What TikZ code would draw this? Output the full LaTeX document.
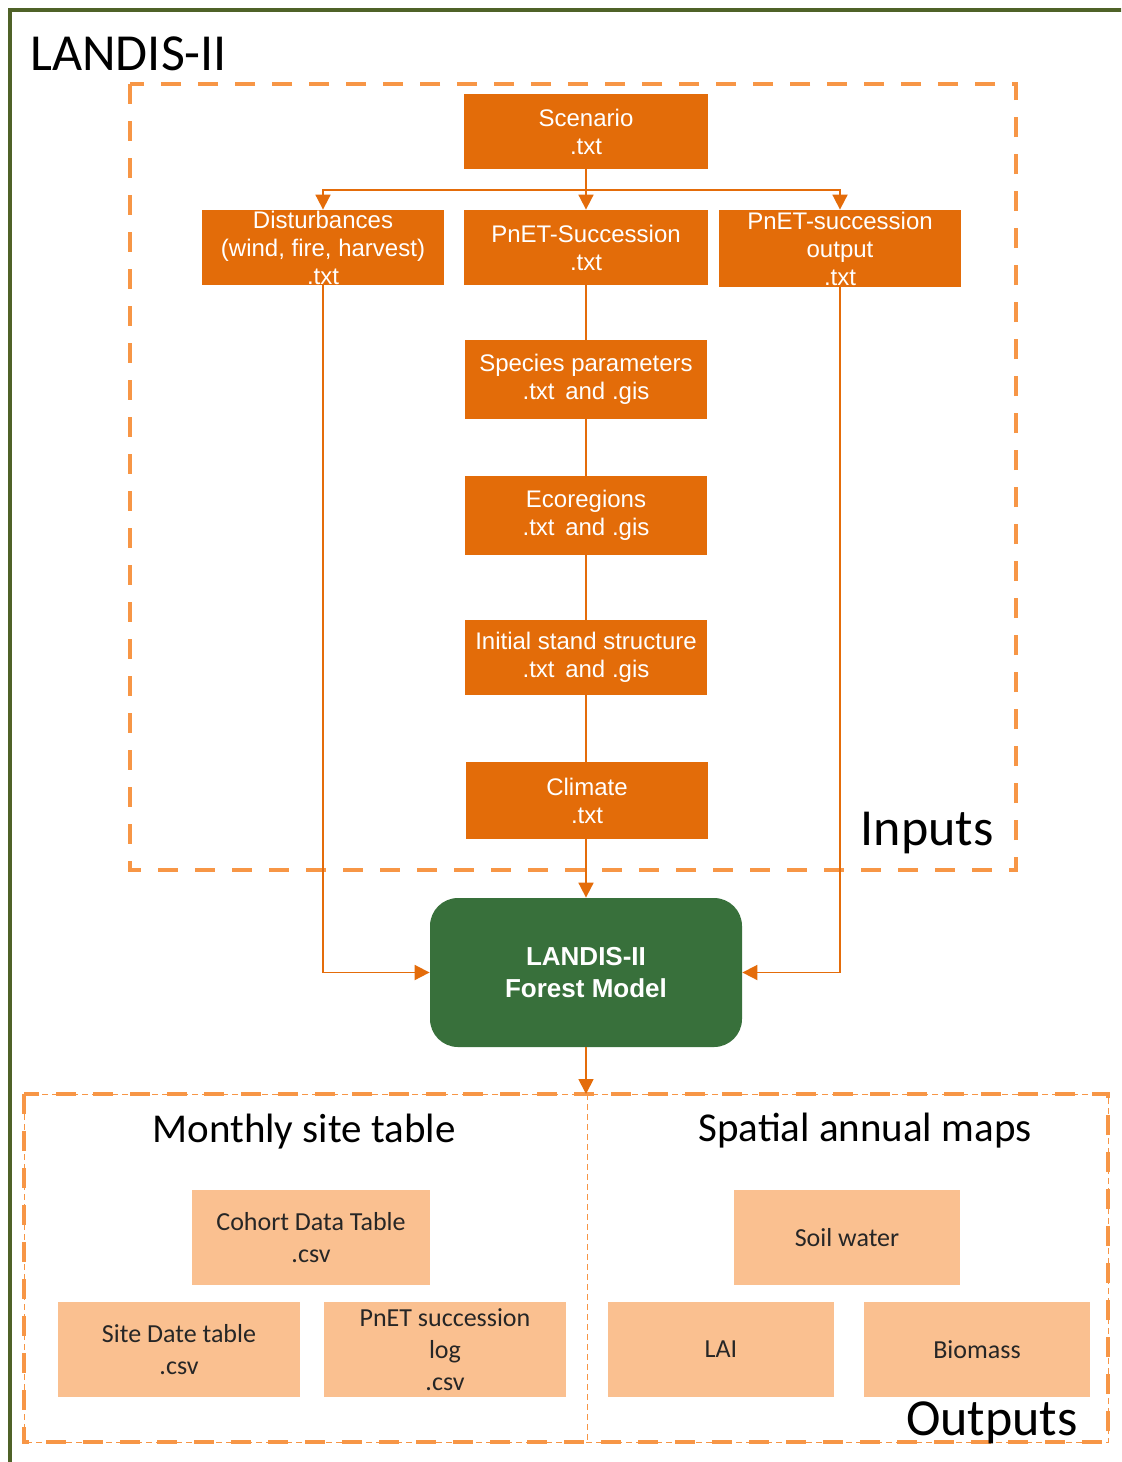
\documentclass[tikz,border=0pt]{standalone}
\usepackage{fontspec}
\setmainfont{Carlito}
\newfontfamily\arialf{Liberation Sans}
\usetikzlibrary{arrows.meta}
\definecolor{iorange}{HTML}{E36C09}
\definecolor{lineorange}{HTML}{E46C0A}
\definecolor{dashorange}{HTML}{F79646}
\definecolor{opeach}{HTML}{FAC090}
\definecolor{mgreen}{HTML}{38703B}
\definecolor{fgreen}{HTML}{4F6228}
\begin{document}
\begin{tikzpicture}[x=0.5pt,y=-0.5pt,
  ibox/.style={fill=iorange, draw=none, text=white, font=\arialf\fontsize{12}{14}\selectfont,
    align=center, inner sep=0pt, minimum width=121pt, minimum height=37.5pt},
  obox/.style={fill=opeach, draw=none, text=black!85, font=\fontsize{13}{16}\selectfont,
    align=center, inner sep=0pt, minimum width=121pt, minimum height=47.5pt},
  conn/.style={draw=lineorange, line width=0.9pt},
  arr/.style={conn, -{Triangle[length=7.5pt,width=7.5pt]}},
  bigdash/.style={draw=dashorange, line width=2pt, dash pattern=on 10pt off 8.5pt},
  thindash/.style={draw=dashorange, line width=0.5pt, dash pattern=on 3pt off 2pt},
  title/.style={font=\fontsize{26}{30}\selectfont, text=black, inner sep=0pt},
  subtitle/.style={font=\fontsize{20.5}{24}\selectfont, text=black, inner sep=0pt}
]
\useasboundingbox (0,0) rectangle (1121,1462);
\clip (0,0) rectangle (1121,1462);
\fill[white] (0,0) rectangle (1121,1462);

% outer frame
\draw[draw=fgreen, line width=2.2pt] (10,10) rectangle (1200,1520);
\node[title, anchor=west] (ltitle) at (30,54) {LANDIS-II};

% inputs box
\draw[bigdash] (130,84) rectangle (1016,870);
\node[title] (inputs) at (927,833) {Inputs};

% input nodes
\node[ibox, minimum width=122pt] (scen) at (586,131.5) {Scenario\\.txt};
\node[ibox] (dist) at (323,247.5) {Disturbances\\(wind, fire, harvest)\\.txt};
\node[ibox, minimum width=122pt] (pnets) at (586,247.5) {PnET-Succession\\.txt};
\node[ibox, minimum height=38.5pt] (outp) at (840,248.5) {PnET-succession\\output\\.txt};
\node[ibox, minimum height=39.5pt] (spec) at (586,379.5) {Species parameters\\.txt\, and .gis};
\node[ibox, minimum height=39.5pt] (eco) at (586,515.5) {Ecoregions\\.txt\, and .gis};
\node[ibox] (init) at (586,657.5) {Initial stand structure\\.txt\, and .gis};
\node[ibox, minimum height=38.5pt] (clim) at (587,800.5) {Climate\\.txt};

% model
\node[fill=mgreen, rounded corners=14pt, text=white, minimum width=156pt, minimum height=74.5pt,
  inner sep=0pt, align=center, font=\arialf\bfseries\fontsize{13}{16}\selectfont] (model) at (586,972.5)
  {LANDIS-II\\Forest Model};

% connectors
\coordinate (bar) at (586,190);
\draw[conn] (scen.south) -- (bar);
\draw[arr] (bar) -| (dist.north);
\draw[arr] (bar) -| (outp.north);
\draw[arr] (bar) -- (pnets.north);
\draw[conn] (pnets.south) -- (spec.north);
\draw[conn] (spec.south) -- (eco.north);
\draw[conn] (eco.south) -- (init.north);
\draw[conn] (init.south) -- (init.south |- clim.north);
\draw[arr] (clim.south -| model.north) -- (model.north);
\draw[arr] (dist.south) |- (model.west);
\draw[arr] (outp.south) |- (model.east);

% outputs box
\coordinate (otop) at (586,1094);
\draw[thindash] (24,1094) rectangle (1108,1442);
\draw[thindash] (587,1094) -- (587,1442);
\draw[bigdash] (24,1094) rectangle (1108,1442);
\draw[arr] (model.south) -- (otop);

\node[subtitle] (mst) at (304,1132) {Monthly site table};
\node[subtitle] (sam) at (865,1131) {Spatial annual maps};
\node[title] (outputs) at (992,1423) {Outputs};

\node[obox, minimum width=119pt] (cohort) at (311,1237.5) {Cohort Data Table\\.csv};
\node[obox] (site) at (179,1349.5) {Site Date table\\.csv};
\node[obox] (plog) at (445,1349.5) {PnET succession\\log\\.csv};
\node[obox, minimum width=113pt] (soil) at (847,1237.5) {Soil water};
\node[obox, minimum width=113pt] (lai) at (721,1349.5) {LAI};
\node[obox, minimum width=113pt] (bio) at (977,1349.5) {Biomass};
\end{tikzpicture}
\end{document}
